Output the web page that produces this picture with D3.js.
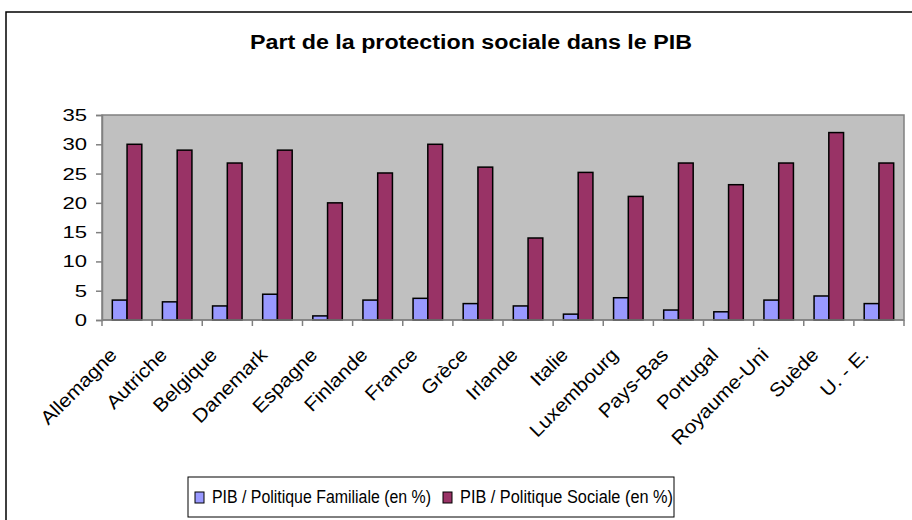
<!DOCTYPE html>
<html>
<head>
<meta charset="utf-8">
<script src="https://cdn.jsdelivr.net/npm/d3@7/dist/d3.min.js"></script>
<style>
    body { margin: 0; background: #fff; }
    svg { display: block; font-family: "Liberation Sans", Arial, sans-serif; }
</style>
</head>
<body>
<div id="chart"></div>
<script>
// Data
const countries = ["Allemagne", "Autriche", "Belgique", "Danemark", "Espagne", "Finlande", "France", "Grèce",
    "Irlande", "Italie", "Luxembourg", "Pays-Bas", "Portugal", "Royaume-Uni", "Suède", "U. - E."];
const familiale = [3.4, 3.1, 2.4, 4.4, 0.7, 3.4, 3.7, 2.8, 2.4, 1.0, 3.8, 1.7, 1.4, 3.4, 4.1, 2.8];
const sociale = [30, 29, 26.8, 29, 20, 25.1, 30, 26.1, 14, 25.2, 21.1, 26.8, 23.1, 26.8, 32, 26.8];
const seriesNames = ["PIB / Politique Familiale (en %)", "PIB / Politique Sociale (en %)"];
const seriesColors = ["#9999FF", "#993366"];
const yTicks = [0, 5, 10, 15, 20, 25, 30, 35];

const W = 912, H = 520;
const plot = { left: 102, top: 115, right: 904, bottom: 320 };

const svg = d3.select("#chart").append("svg")
    .attr("width", W)
    .attr("height", H);

// outer chart border (runs off the right and bottom edges)
svg.append("rect")
    .attr("x", 6).attr("y", 12)
    .attr("width", W + 20).attr("height", H + 20)
    .attr("fill", "#fff")
    .attr("stroke", "#000")
    .attr("stroke-width", 1.5);

// title, stretched a bit wide like the reference
svg.append("text")
    .attr("x", 250).attr("y", 49)
    .attr("font-weight", "bold")
    .attr("font-size", 20)
    .attr("textLength", 442)
    .attr("lengthAdjust", "spacingAndGlyphs")
    .text("Part de la protection sociale dans le PIB");

const x = d3.scaleBand()
    .domain(countries)
    .range([plot.left, plot.right]);

const xInner = d3.scaleBand()
    .domain([0, 1])
    .range([0, x.bandwidth()])
    .paddingOuter(0.7);

const y = d3.scaleLinear()
    .domain([0, 35])
    .range([plot.bottom, plot.top]);

// plot area background
svg.append("rect")
    .attr("x", plot.left).attr("y", plot.top)
    .attr("width", plot.right - plot.left)
    .attr("height", plot.bottom - plot.top)
    .attr("fill", "#C0C0C0")
    .attr("stroke", "#808080")
    .attr("stroke-width", 1.5);

// bars
const rows = countries.map((c, i) => ({ country: c, values: [familiale[i], sociale[i]] }));
const groups = svg.append("g").selectAll("g")
    .data(rows)
    .enter().append("g")
    .attr("transform", d => `translate(${x(d.country)},0)`);

groups.selectAll("rect")
    .data(d => d.values.map((v, k) => ({ k, v })))
    .enter().append("rect")
    .attr("x", d => xInner(d.k))
    .attr("y", d => y(d.v))
    .attr("width", xInner.bandwidth())
    .attr("height", d => y(0) - y(d.v))
    .attr("fill", d => seriesColors[d.k])
    .attr("stroke", "#000")
    .attr("stroke-width", 1.5);

// y axis
const yAxis = svg.append("g")
    .attr("transform", `translate(${plot.left},0)`)
    .call(d3.axisLeft(y).tickValues(yTicks).tickSize(6).tickPadding(9));
yAxis.selectAll("text")
    .attr("x", 0)
    .attr("transform", "translate(-15,0) scale(1.3,1)")
    .attr("font-size", 17)
    .attr("fill", "#000")
    .attr("font-family", "Liberation Sans, Arial, sans-serif");
yAxis.selectAll("line, path").attr("stroke", "#808080").attr("stroke-width", 1.5);

// x axis: ticks between categories
const xAxis = svg.append("g")
    .attr("transform", `translate(0,${plot.bottom})`);
xAxis.append("line")
    .attr("x1", plot.left).attr("x2", plot.right)
    .attr("stroke", "#808080").attr("stroke-width", 1.5);
xAxis.selectAll(".tick")
    .data(countries.concat([null]))
    .enter().append("line")
    .attr("x1", d => d ? x(d) : plot.right)
    .attr("x2", d => d ? x(d) : plot.right)
    .attr("y1", 0).attr("y2", 6)
    .attr("stroke", "#808080").attr("stroke-width", 1.5);

const labels = xAxis.selectAll(".label")
    .data(countries)
    .enter().append("text")
    .attr("transform", d => `translate(${x(d) + x.bandwidth() / 2 - 9},36) rotate(-45)`)
    .attr("text-anchor", "end")
    .attr("font-size", 19)
    .text(d => d);
// labels in the reference run a little longer than the font alone gives
labels.each(function () {
    const len = this.getComputedTextLength();
    d3.select(this).attr("textLength", len * 1.1).attr("lengthAdjust", "spacingAndGlyphs");
});

// legend
const legend = svg.append("g");
legend.append("rect")
    .attr("x", 188).attr("y", 477)
    .attr("width", 486).attr("height", 40)
    .attr("fill", "#fff")
    .attr("stroke", "#000")
    .attr("stroke-width", 1);

const legendX = [195, 443];
const legendLen = [219, 213];
seriesNames.forEach((name, i) => {
    legend.append("rect")
        .attr("x", legendX[i]).attr("y", 492)
        .attr("width", 9).attr("height", 11)
        .attr("fill", seriesColors[i])
        .attr("stroke", "#000")
        .attr("stroke-width", 1);
    legend.append("text")
        .attr("x", legendX[i] + 17).attr("y", 503)
        .attr("font-size", 17.5)
        .attr("textLength", legendLen[i])
        .attr("lengthAdjust", "spacingAndGlyphs")
        .text(name);
});
</script>
</body>
</html>
